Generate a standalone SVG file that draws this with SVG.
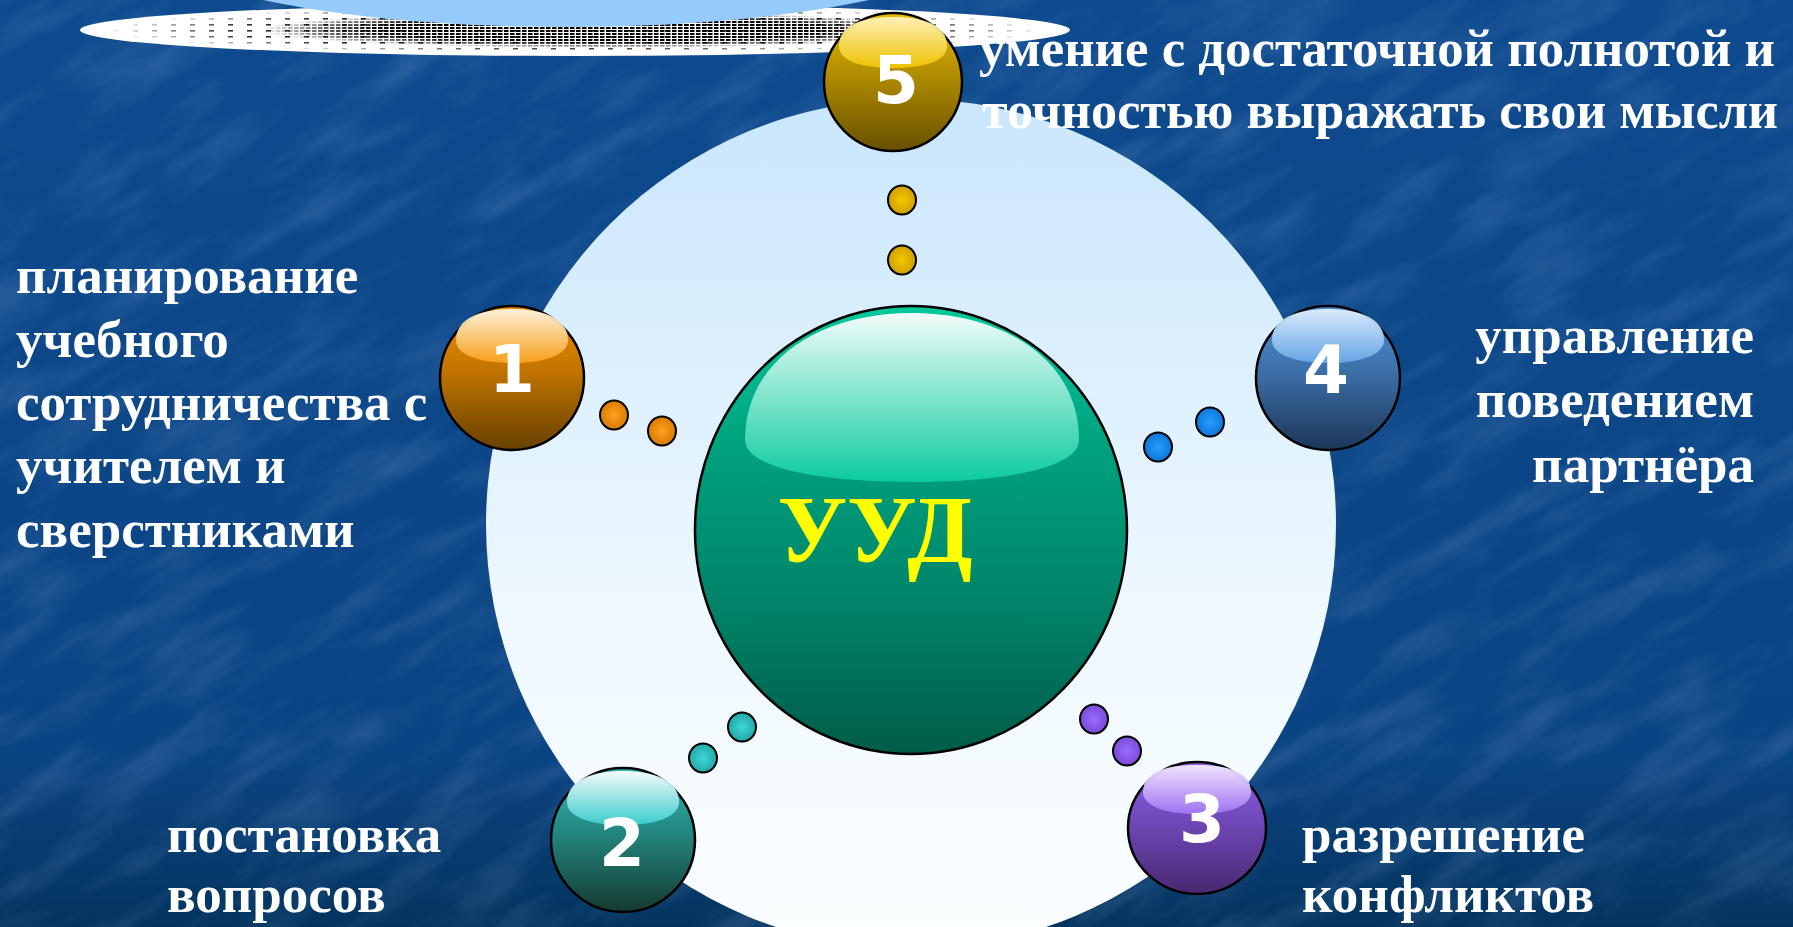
<svg xmlns="http://www.w3.org/2000/svg" width="1793" height="927" viewBox="0 0 1793 927">
<style>
.side{font-family:"Liberation Serif","Times New Roman",serif;font-weight:bold;font-size:53px;fill:#ffffff;}
.top{font-family:"Liberation Serif","Times New Roman",serif;font-weight:bold;font-size:52px;fill:#ffffff;}
.num{font-family:"DejaVu Sans",sans-serif;font-weight:bold;font-size:66px;fill:#ffffff;text-anchor:middle;}
.ball{stroke:#000;stroke-width:2.5;}
.dot{stroke:#000;stroke-width:2;}
</style>
<defs>
<linearGradient id="bg" x1="0" y1="0" x2="0" y2="1">
<stop offset="0" stop-color="#0e4a8e"/><stop offset="0.82" stop-color="#0b4483"/><stop offset="1" stop-color="#04345e"/>
</linearGradient>
<filter id="tex" x="0" y="0" width="100%" height="100%">
<feTurbulence type="fractalNoise" baseFrequency="0.008 0.03" numOctaves="4" seed="7"/>
<feColorMatrix type="matrix" values="0 0 0 0 0.5  0 0 0 0 0.68  0 0 0 0 1  0 0 0 1.6 -0.7"/>
</filter>
<linearGradient id="disk" x1="0" y1="0" x2="0" y2="1">
<stop offset="0" stop-color="#c9e6fb"/><stop offset="0.6" stop-color="#eef8ff"/><stop offset="1" stop-color="#fbfeff"/>
</linearGradient>
<linearGradient id="gC" x1="0" y1="0" x2="0" y2="1">
<stop offset="0" stop-color="#00c99c"/><stop offset="0.3" stop-color="#00a37e"/><stop offset="0.65" stop-color="#00856a"/><stop offset="1" stop-color="#005c48"/>
</linearGradient>
<linearGradient id="hC" x1="0" y1="0" x2="0" y2="1">
<stop offset="0" stop-color="#ffffff"/><stop offset="1" stop-color="#0ccea0"/>
</linearGradient>
<linearGradient id="g1" x1="0" y1="0" x2="0" y2="1"><stop offset="0" stop-color="#f09000"/><stop offset="0.45" stop-color="#c27400"/><stop offset="1" stop-color="#664000"/></linearGradient>
<linearGradient id="h1" x1="0" y1="0" x2="0" y2="1"><stop offset="0" stop-color="#fff6e6"/><stop offset="1" stop-color="#f8a21c"/></linearGradient>
<linearGradient id="g2" x1="0" y1="0" x2="0" y2="1"><stop offset="0" stop-color="#33b8b8"/><stop offset="0.45" stop-color="#23867f"/><stop offset="1" stop-color="#143a30"/></linearGradient>
<linearGradient id="h2" x1="0" y1="0" x2="0" y2="1"><stop offset="0" stop-color="#ffffff"/><stop offset="1" stop-color="#3ccfcf"/></linearGradient>
<linearGradient id="g3" x1="0" y1="0" x2="0" y2="1"><stop offset="0" stop-color="#9060e8"/><stop offset="0.45" stop-color="#7048b8"/><stop offset="1" stop-color="#482870"/></linearGradient>
<linearGradient id="h3" x1="0" y1="0" x2="0" y2="1"><stop offset="0" stop-color="#f4eaff"/><stop offset="1" stop-color="#a274f4"/></linearGradient>
<linearGradient id="g4" x1="0" y1="0" x2="0" y2="1"><stop offset="0" stop-color="#5090d8"/><stop offset="0.45" stop-color="#3c70a8"/><stop offset="1" stop-color="#1c3658"/></linearGradient>
<linearGradient id="h4" x1="0" y1="0" x2="0" y2="1"><stop offset="0" stop-color="#e0f0ff"/><stop offset="1" stop-color="#68a6e8"/></linearGradient>
<linearGradient id="g5" x1="0" y1="0" x2="0" y2="1"><stop offset="0" stop-color="#e8bc00"/><stop offset="0.45" stop-color="#b08c00"/><stop offset="1" stop-color="#685000"/></linearGradient>
<linearGradient id="h5" x1="0" y1="0" x2="0" y2="1"><stop offset="0" stop-color="#fff4c0"/><stop offset="1" stop-color="#f0c400"/></linearGradient>
<radialGradient id="d1" cx="0.5" cy="0.5" r="0.5"><stop offset="0" stop-color="#ffa020"/><stop offset="1" stop-color="#d87c00"/></radialGradient>
<radialGradient id="d2" cx="0.5" cy="0.5" r="0.5"><stop offset="0" stop-color="#40d6d6"/><stop offset="1" stop-color="#22a8a8"/></radialGradient>
<radialGradient id="d3" cx="0.5" cy="0.5" r="0.5"><stop offset="0" stop-color="#9a6cff"/><stop offset="1" stop-color="#7a4ad8"/></radialGradient>
<radialGradient id="d4" cx="0.5" cy="0.5" r="0.5"><stop offset="0" stop-color="#2a9cff"/><stop offset="1" stop-color="#0a78d8"/></radialGradient>
<radialGradient id="d5" cx="0.5" cy="0.5" r="0.5"><stop offset="0" stop-color="#f4c800"/><stop offset="1" stop-color="#cfa000"/></radialGradient>
<pattern id="dith" x="0" y="0" width="6" height="3" patternUnits="userSpaceOnUse">
<rect x="0" y="0" width="4.5" height="2" fill="#000"/>
</pattern>
<pattern id="dith2" x="0" y="0" width="19" height="6" patternUnits="userSpaceOnUse">
<rect x="0" y="0" width="5" height="1.6" fill="#000"/>
</pattern>
<radialGradient id="dmg" cx="0.5" cy="0.5" r="0.5">
<stop offset="0" stop-color="#fff"/><stop offset="0.65" stop-color="#fff"/><stop offset="0.85" stop-color="#888"/><stop offset="1" stop-color="#000"/>
</radialGradient>
<radialGradient id="dmg2" cx="0.5" cy="0.5" r="0.5">
<stop offset="0" stop-color="#fff"/><stop offset="0.75" stop-color="#ccc"/><stop offset="1" stop-color="#000"/>
</radialGradient>
<mask id="dm"><ellipse cx="600" cy="30" rx="340" ry="18" fill="url(#dmg)"/></mask>
<mask id="dm2"><ellipse cx="575" cy="30" rx="470" ry="24" fill="url(#dmg2)"/></mask>
</defs>

<g id="background">
<rect x="0" y="0" width="1793" height="927" fill="url(#bg)"/>
<g opacity="0.2"><rect x="-600" y="-600" width="3000" height="2200" filter="url(#tex)" transform="rotate(-30 896 463)"/></g>
</g>

<g id="top-decoration">
<ellipse cx="575" cy="30" rx="495" ry="26" fill="#ffffff"/>
<ellipse cx="575" cy="30" rx="495" ry="26" fill="url(#dith2)" mask="url(#dm2)"/>
<ellipse cx="575" cy="30" rx="495" ry="26" fill="url(#dith)" mask="url(#dm)"/>
<ellipse cx="566" cy="-60" rx="418" ry="87" fill="#96cafb"/>
</g>

<g id="disk">
<circle cx="911" cy="524" r="425" fill="url(#disk)"/>
</g>

<g id="connectors">
<ellipse class="dot" cx="614" cy="415" rx="14" ry="14.5" fill="url(#d1)"/>
<ellipse class="dot" cx="662" cy="431" rx="14" ry="14.5" fill="url(#d1)"/>
<ellipse class="dot" cx="902" cy="200" rx="14" ry="14.5" fill="url(#d5)"/>
<ellipse class="dot" cx="902" cy="260" rx="14" ry="14.5" fill="url(#d5)"/>
<ellipse class="dot" cx="1158" cy="447" rx="14" ry="14.5" fill="url(#d4)"/>
<ellipse class="dot" cx="1210" cy="422" rx="14" ry="14.5" fill="url(#d4)"/>
<ellipse class="dot" cx="703" cy="758" rx="14" ry="14.5" fill="url(#d2)"/>
<ellipse class="dot" cx="742" cy="727" rx="14" ry="14.5" fill="url(#d2)"/>
<ellipse class="dot" cx="1094" cy="719" rx="14" ry="14.5" fill="url(#d3)"/>
<ellipse class="dot" cx="1127" cy="751" rx="14" ry="14.5" fill="url(#d3)"/>
</g>

<g id="node-center">
<ellipse class="ball" cx="911" cy="530" rx="216" ry="224" fill="url(#gC)"/>
<path d="M745 440 C745 360 820 313 912 313 C1004 313 1079 360 1079 440 C1079 468 1004 482 912 482 C820 482 745 468 745 440 Z" fill="url(#hC)" opacity="0.95"/>
<text x="875" y="562" text-anchor="middle" font-family="'Liberation Serif','Times New Roman',serif" font-weight="bold" font-size="95" fill="#ffff00">УУД</text>
</g>

<g id="node-1">
<circle class="ball" cx="512" cy="378" r="72" fill="url(#g1)"/>
<path d="M456 340 C456 318 482 309 512 309 C542 309 568 318 568 340 C568 356 542 363 512 363 C482 363 456 356 456 340 Z" fill="url(#h1)" opacity="0.95"/>
<text class="num" x="512" y="392">1</text>
</g>

<g id="node-2">
<circle class="ball" cx="623" cy="840" r="72" fill="url(#g2)"/>
<path d="M567 802 C567 780 593 771 623 771 C653 771 679 780 679 802 C679 818 653 825 623 825 C593 825 567 818 567 802 Z" fill="url(#h2)" opacity="0.95"/>
<text class="num" x="622" y="866">2</text>
</g>

<g id="node-3">
<ellipse class="ball" cx="1197" cy="828" rx="69" ry="66" fill="url(#g3)"/>
<path d="M1143 792 C1143 771 1168 765 1197 765 C1226 765 1251 771 1251 792 C1251 807 1226 814 1197 814 C1168 814 1143 807 1143 792 Z" fill="url(#h3)" opacity="0.95"/>
<text class="num" x="1202" y="842">3</text>
</g>

<g id="node-4">
<circle class="ball" cx="1328" cy="378" r="72" fill="url(#g4)"/>
<path d="M1272 340 C1272 318 1298 309 1328 309 C1358 309 1384 318 1384 340 C1384 356 1358 363 1328 363 C1298 363 1272 356 1272 340 Z" fill="url(#h4)" opacity="0.95"/>
<text class="num" x="1326" y="393">4</text>
</g>

<g id="node-5">
<circle class="ball" cx="893" cy="82" r="69" fill="url(#g5)"/>
<path d="M839 46 C839 24 864 17 893 17 C922 17 947 24 947 46 C947 62 922 68 893 68 C864 68 839 62 839 46 Z" fill="url(#h5)" opacity="0.95"/>
<text class="num" x="896" y="103">5</text>
</g>

<g id="labels">
<text class="side" x="16" y="293">планирование</text>
<text class="side" x="16" y="357">учебного</text>
<text class="side" x="16" y="420">сотрудничества с</text>
<text class="side" x="16" y="483">учителем и</text>
<text class="side" x="16" y="547">сверстниками</text>
<text class="side" x="1754" y="353" text-anchor="end">управление</text>
<text class="side" x="1754" y="417" text-anchor="end">поведением</text>
<text class="side" x="1754" y="482" text-anchor="end">партнёра</text>
<text class="side" x="167" y="852">постановка</text>
<text class="side" x="167" y="912">вопросов</text>
<text class="side" x="1302" y="852">разрешение</text>
<text class="side" x="1302" y="912">конфликтов</text>
<text class="top" x="979" y="66" textLength="796" lengthAdjust="spacingAndGlyphs">умение с достаточной полнотой и</text>
<text class="top" x="982" y="128" textLength="796" lengthAdjust="spacingAndGlyphs">точностью выражать свои мысли</text>
</g>
</svg>
